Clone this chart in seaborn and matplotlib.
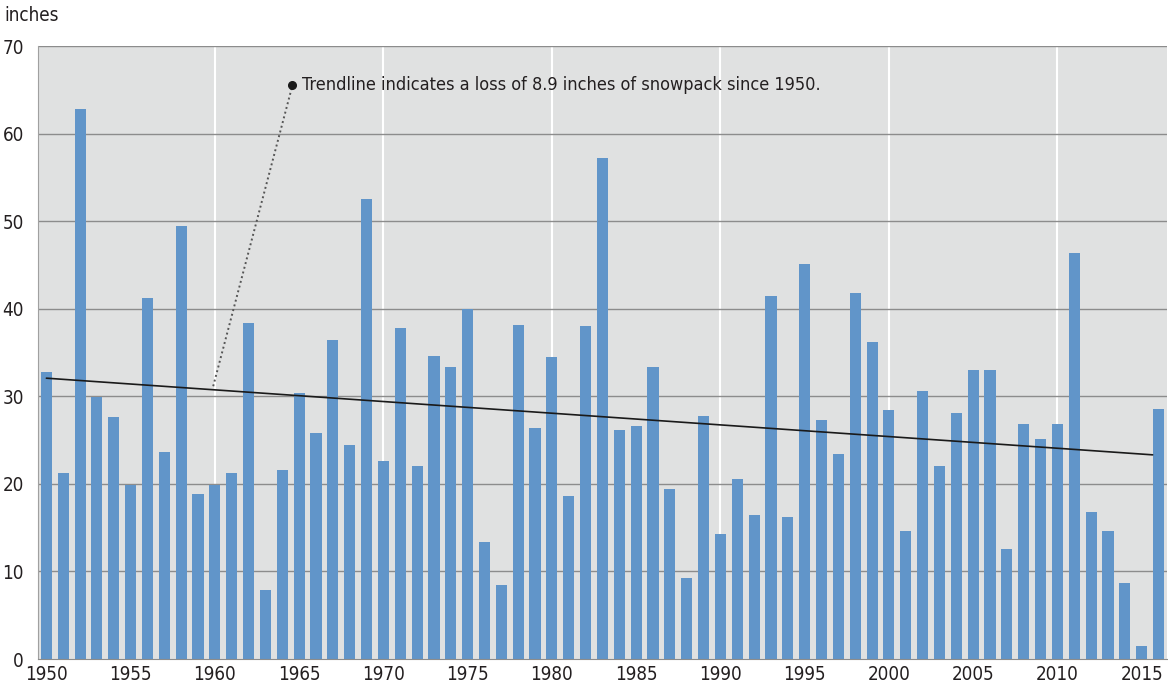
import numpy as np
import pandas as pd
import matplotlib
matplotlib.use('Agg')
import matplotlib.pyplot as plt
import seaborn as sns

# ============ 数据 ============
years = list(range(1950, 2017))
snowpack = [32.8, 21.2, 62.8, 29.9, 27.6, 19.9, 41.2, 23.6, 49.4, 18.9,
            19.9, 21.2, 38.4, 7.9, 21.6, 30.4, 25.8, 36.4, 24.4, 52.5,
            22.6, 37.8, 22.0, 34.6, 33.4, 40.0, 13.4, 8.5, 38.1, 26.4,
            34.5, 18.6, 38.0, 57.2, 26.2, 26.6, 33.4, 19.4, 9.2, 27.8,
            14.3, 20.6, 16.4, 41.5, 16.2, 45.1, 27.3, 23.4, 41.8, 36.2,
            28.4, 14.6, 30.6, 22.0, 28.1, 33.0, 33.0, 12.6, 26.8, 25.1,
            26.8, 46.4, 16.8, 14.6, 8.7, 1.5, 28.5]
tick_years = list(range(1950, 2016, 5))
y_ticks = list(range(0, 71, 10))
note = 'Trendline indicates a loss of 8.9 inches of snowpack since 1950.'

df = pd.DataFrame({'year': [str(y) for y in years], 'inches': snowpack})

# ============ 样式 ============
sns.set_style('white')
plt.rcParams['font.family'] = ['DejaVu Sans']
plt.rcParams['font.stretch'] = 'condensed'
text_color = '#231f20'
bg_color = '#e0e1e1'
bar_color = '#6195c9'

fig = plt.figure(figsize=(11.68, 6.91), dpi=100)
ax = fig.add_axes([0.0325, 0.0463, 0.9666, 0.8871])
ax.set_facecolor(bg_color)

# 白色竖向网格（每十年）
for y in range(1960, 2016, 10):
    ax.axvline(years.index(y), color='white', lw=1.5, zorder=0)
# 横向网格
for v in y_ticks[1:]:
    ax.axhline(v, color='#8c8c8c', lw=1.0, zorder=0.5)

sns.barplot(data=df, x='year', y='inches', color=bar_color, saturation=1,
            width=0.66, linewidth=0, edgecolor='none', ax=ax, zorder=2)

# 线性趋势线
idx = np.arange(len(years))
k, b = np.polyfit(idx, snowpack, 1)
xt = np.array([0, len(years) - 1.35])
ax.plot(xt, k * xt + b, color='#1a1a1a', lw=1.2, zorder=3)

# 注释
x_dot = years.index(1960) + 4.6
x_end = years.index(1960) - 0.1
ax.plot([x_end, x_dot], [k * x_end + b + 0.4, 65.5], ls=(0, (1, 1.5)),
        color='#555555', lw=1.4, zorder=3)
ax.plot([x_dot], [65.5], 'o', color='#1a1a1a', ms=5.5, zorder=4)
ax.text(x_dot + 0.55, 65.5, note, va='center', ha='left', fontsize=13,
        color=text_color)

# 坐标轴
ax.set_xlim(-0.5, len(years) - 0.5)
ax.set_ylim(0, 70)
ax.set_xticks([years.index(y) for y in tick_years])
ax.set_xticklabels([str(y) for y in tick_years])
ax.set_xticks(np.arange(-0.5, len(years), 1), minor=True)
ax.set_yticks(y_ticks)
ax.tick_params(axis='x', which='major', length=0, pad=4, labelsize=13.5,
               labelcolor=text_color)
ax.tick_params(axis='x', which='minor', length=4, color='#8c8c8c', width=1)
ax.tick_params(axis='y', length=4, color='#8c8c8c', width=1, pad=6,
               labelsize=13.5, labelcolor=text_color)
ax.set_xlabel('')
ax.set_ylabel('')
for s in ['top', 'right']:
    ax.spines[s].set_visible(False)
ax.spines['left'].set_color('#a0a0a0')
ax.spines['bottom'].set_color('#8c8c8c')

fig.text(0.004, 0.977, 'inches', ha='left', va='center', fontsize=13.5,
         color=text_color)

fig.savefig('out.png', dpi=100)
